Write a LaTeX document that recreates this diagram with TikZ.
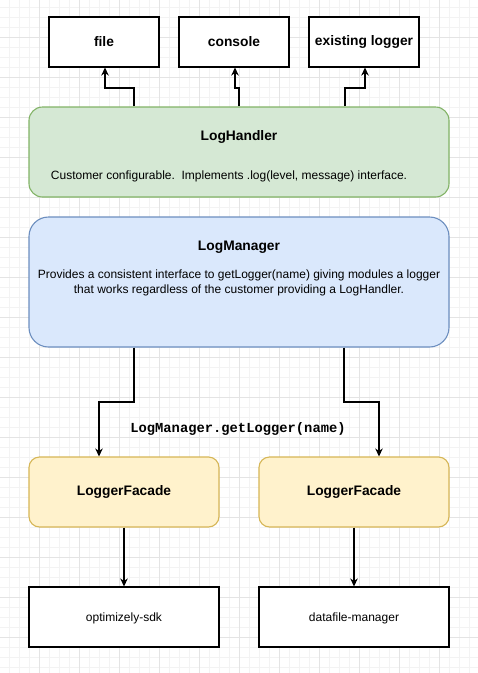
\documentclass[tikz,border=0pt]{standalone}
\usepackage{fontspec}
\setmainfont{Liberation Sans}
\setmonofont{Liberation Mono}
\usetikzlibrary{arrows.meta,calc}
\definecolor{gridminor}{HTML}{F3F3F3}
\definecolor{gridmajor}{HTML}{E4E4E4}
\definecolor{greenfill}{HTML}{D5E8D4}
\definecolor{greenline}{HTML}{82B366}
\definecolor{bluefill}{HTML}{DAE8FC}
\definecolor{blueline}{HTML}{6C8EBF}
\definecolor{yellowfill}{HTML}{FFF2CC}
\definecolor{yellowline}{HTML}{D6B656}
\tikzset{
  txt/.style={font=\fontsize{12}{14.5}\selectfont, inner sep=0pt, align=center},
  ttl/.style={font=\fontsize{13.8}{15}\selectfont\bfseries, inner sep=0pt, align=center},
  plainbox/.style={draw=black, line width=1.1pt, fill=white, inner sep=0pt},
  greenbox/.style={draw=greenline, fill=greenfill, line width=1.1pt, rounded corners=13.5pt, inner sep=0pt},
  bluebox/.style={draw=blueline, fill=bluefill, line width=1.1pt, rounded corners=19.5pt, inner sep=0pt},
  yellowbox/.style={draw=yellowline, fill=yellowfill, line width=1.1pt, rounded corners=10.5pt, inner sep=0pt},
  conn/.style={draw=black, line width=1.1pt, -{Stealth[length=8pt,width=7.5pt,inset=2.5pt]}},
  gminor/.style={draw=gridminor, line width=0.9pt},
  gmajor/.style={draw=gridmajor, line width=0.9pt}
}
\begin{document}
\begin{tikzpicture}[x=1pt,y=-1pt]
\useasboundingbox (0,0) rectangle (478,673);
\fill[white] (0,0) rectangle (478,673);
% grid
\foreach \x in {9,19,...,478} \draw[gminor] (\x,0) -- (\x,673);
\foreach \y in {7,17,...,673} \draw[gminor] (0,\y) -- (478,\y);
\foreach \x in {39,79,...,478} \draw[gmajor] (\x,0) -- (\x,673);
\foreach \y in {37,77,...,673} \draw[gmajor] (0,\y) -- (478,\y);

% top boxes
\node[plainbox, minimum width=110pt, minimum height=50pt] (file) at (104,42) {};
\node[ttl] (fileT) at (file.center) {file};
\node[plainbox, minimum width=110pt, minimum height=50pt] (console) at (234,42) {};
\node[ttl] (consoleT) at (console.center) {console};
\node[plainbox, minimum width=110pt, minimum height=50pt] (exist) at (364,42) {};
\node[ttl] (existT) at (exist.center) {existing logger};

% LogHandler
\node[greenbox, minimum width=420pt, minimum height=90pt] (lh) at (239,152) {};
\node[ttl] (lhT) at (239,137) {LogHandler};
\node[txt] (lhB) at (229,176) {Customer configurable.\ \ Implements .log(level, message) interface.};

% LogManager
\node[bluebox, minimum width=420pt, minimum height=130pt] (lm) at (239,282) {};
\node[ttl] (lmT) at (239,247) {LogManager};
\node[txt] (lmB) at (239,283) {Provides a consistent interface to getLogger(name) giving modules a logger\\that works regardless of the customer providing a LogHandler.};

% label
\node[inner sep=0pt, font=\fontsize{13.8}{15}\selectfont\ttfamily\bfseries] (getl) at (238,429) {LogManager.getLogger(name)};

% facades
\node[yellowbox, minimum width=190pt, minimum height=70pt] (fa) at (124,492) {};
\node[ttl] (faT) at (fa.center) {LoggerFacade};
\node[yellowbox, minimum width=190pt, minimum height=70pt] (fb) at (354,492) {};
\node[ttl] (fbT) at (fb.center) {LoggerFacade};

% bottom boxes
\node[plainbox, minimum width=190pt, minimum height=60pt] (sdk) at (124,617) {};
\node[txt] (sdkT) at (124,618) {optimizely-sdk};
\node[plainbox, minimum width=190pt, minimum height=60pt] (dfm) at (354,617) {};
\node[txt] (dfmT) at (354,618) {datafile-manager};

% connectors up
\draw[conn] (134,0 |- lh.north) -- (134,88) -- (105,88) -- (105,0 |- file.south);
\draw[conn] (239,0 |- lh.north) -- (239,88) -- (235,88) -- (235,0 |- console.south);
\draw[conn] (345,0 |- lh.north) -- (345,88) -- (365,88) -- (365,0 |- exist.south);

% connectors down
\draw[conn] (134,0 |- lm.south) -- (134,402) -- (99,402) -- (99,0 |- fa.north);
\draw[conn] (344,0 |- lm.south) -- (344,402) -- (379,402) -- (379,0 |- fb.north);
\draw[conn] (fa.south) -- (sdk.north);
\draw[conn] (fb.south) -- (dfm.north);
\end{tikzpicture}
\end{document}
